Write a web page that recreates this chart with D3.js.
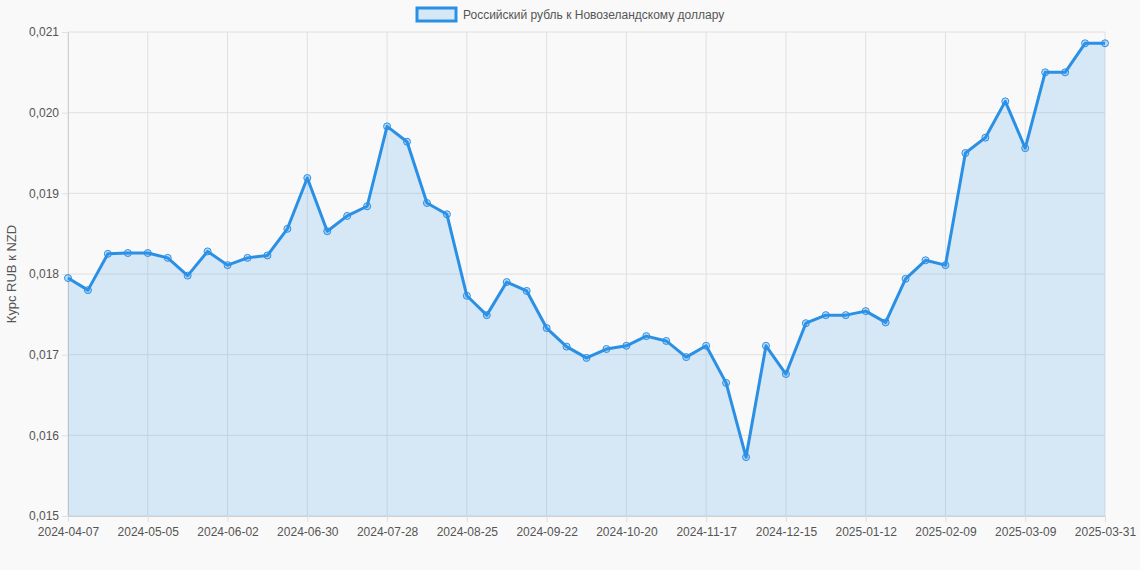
<!DOCTYPE html>
<html lang="ru">
<head>
<meta charset="UTF-8" />
<title>RUB/NZD</title>
<script src="https://d3js.org/d3.v7.min.js"></script>
<style>
  body { margin: 0; background: #f9f9f9; }
  text { font-family: "Liberation Sans", Arial, sans-serif; }
</style>
</head>
<body>
<div id="chart"></div>
<script>
const dates = [
  "2024-04-07","2024-04-14","2024-04-21","2024-04-28","2024-05-05","2024-05-12","2024-05-19","2024-05-26",
  "2024-06-02","2024-06-09","2024-06-16","2024-06-23","2024-06-30","2024-07-07","2024-07-14","2024-07-21",
  "2024-07-28","2024-08-04","2024-08-11","2024-08-18","2024-08-25","2024-09-01","2024-09-08","2024-09-15",
  "2024-09-22","2024-09-29","2024-10-06","2024-10-13","2024-10-20","2024-10-27","2024-11-03","2024-11-10",
  "2024-11-17","2024-11-24","2024-12-01","2024-12-08","2024-12-15","2024-12-22","2024-12-29","2025-01-05",
  "2025-01-12","2025-01-19","2025-01-26","2025-02-02","2025-02-09","2025-02-16","2025-02-23","2025-03-02",
  "2025-03-09","2025-03-16","2025-03-23","2025-03-30","2025-03-31"
];
const rates = [
  0.01795,0.01780,0.01825,0.01826,0.01826,0.01820,0.01798,0.01828,
  0.01811,0.01820,0.01823,0.01856,0.01919,0.01853,0.01872,0.01884,
  0.01983,0.01964,0.01888,0.01874,0.01773,0.01749,0.01790,0.01779,
  0.01733,0.01710,0.01696,0.01707,0.01711,0.01723,0.01717,0.01697,
  0.01711,0.01665,0.01573,0.01711,0.01676,0.01739,0.01749,0.01749,
  0.01754,0.01740,0.01794,0.01817,0.01811,0.01950,0.01969,0.02014,
  0.01956,0.02050,0.02050,0.02086,0.02086
];
const yTicks = [0.015, 0.016, 0.017, 0.018, 0.019, 0.020, 0.021];
const seriesName = "Российский рубль к Новозеландскому доллару";

const width = 1140, height = 570;
const margin = { top: 32, right: 35, bottom: 54, left: 68 };

const svg = d3.select("#chart").append("svg")
  .attr("width", width).attr("height", height);

const x = d3.scalePoint().domain(dates).range([margin.left, width - margin.right]);
const y = d3.scaleLinear().domain([0.015, 0.021]).range([height - margin.bottom, margin.top]);

const tickDates = dates.filter((d, i) => i % 4 === 0 || i === dates.length - 1);

// grid
svg.append("g").selectAll("line").data(yTicks).join("line")
  .attr("x1", margin.left).attr("x2", width - margin.right)
  .attr("y1", d => y(d)).attr("y2", d => y(d))
  .attr("stroke", "#e0e0e0");
svg.append("g").selectAll("line").data(tickDates).join("line")
  .attr("x1", d => x(d)).attr("x2", d => x(d))
  .attr("y1", margin.top).attr("y2", height - margin.bottom)
  .attr("stroke", "#e0e0e0");

// axes
const fmt = d => d3.format(".3f")(d).replace(".", ",");
const yAxis = svg.append("g").attr("transform", `translate(${margin.left},0)`)
  .call(d3.axisLeft(y).tickValues(yTicks).tickFormat(fmt).tickSize(6).tickPadding(3));
const xAxis = svg.append("g").attr("transform", `translate(0,${height - margin.bottom})`)
  .call(d3.axisBottom(x).tickValues(tickDates).tickSize(6).tickPadding(5));
[xAxis, yAxis].forEach(a => {
  a.select(".domain").attr("stroke", "#d0d0d0");
  a.selectAll(".tick line").attr("stroke", "#e0e0e0");
  a.selectAll("text").attr("fill", "#555").style("font-size", "12px");
});

svg.append("text")
  .attr("transform", `translate(16,${(margin.top + height - margin.bottom) / 2}) rotate(-90)`)
  .attr("text-anchor", "middle").attr("fill", "#555").style("font-size", "13px")
  .text("Курс RUB к NZD");

// area + line
const pts = dates.map((d, i) => ({ d, v: rates[i] }));
svg.append("path").datum(pts)
  .attr("fill", "rgba(54,150,235,0.18)")
  .attr("d", d3.area().x(p => x(p.d)).y0(y(0.015)).y1(p => y(p.v)));
svg.append("path").datum(pts)
  .attr("fill", "none").attr("stroke", "#2a90e6").attr("stroke-width", 3)
  .attr("stroke-linejoin", "round")
  .attr("d", d3.line().x(p => x(p.d)).y(p => y(p.v)));
svg.append("g").selectAll("circle").data(pts).join("circle")
  .attr("cx", p => x(p.d)).attr("cy", p => y(p.v)).attr("r", 3.5)
  .attr("fill", "rgba(54,150,235,0.3)").attr("stroke", "#2a90e6").attr("stroke-width", 1);

// legend
const lg = svg.append("g");
const lt = lg.append("text").attr("x", 463).attr("y", 19).attr("fill", "#555")
  .style("font-size", "12px").text(seriesName);
lg.append("rect").attr("x", 417).attr("y", 8).attr("width", 39).attr("height", 13)
  .attr("fill", "rgba(54,150,235,0.18)").attr("stroke", "#2a90e6").attr("stroke-width", 3);
</script>
</body>
</html>
